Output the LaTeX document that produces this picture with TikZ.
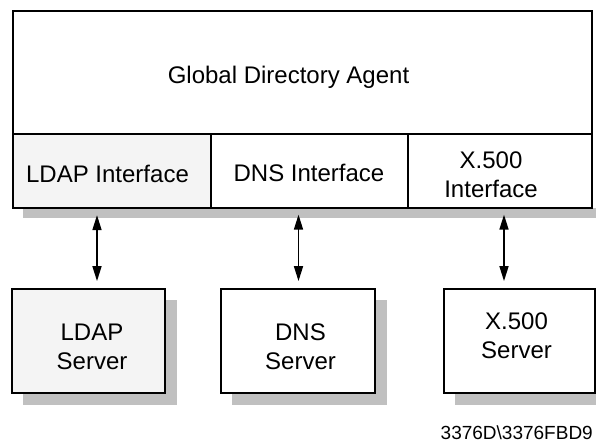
\documentclass[tikz,border=0pt]{standalone}
\usepackage{fontspec}
\setmainfont{Liberation Sans}
\usetikzlibrary{arrows.meta}
\definecolor{shadowgray}{RGB}{192,192,192}
\definecolor{lightfill}{RGB}{244,244,244}
\begin{document}
\begin{tikzpicture}[x=1pt,y=-1pt,
  box/.style={draw=black, line width=1.3pt, fill=white, inner sep=0pt},
  srvbox/.style={box, line width=1.8pt, minimum height=104pt},
  txt/.style={anchor=base, inner sep=0pt, font=\fontsize{24}{29}\selectfont},
  shade/.style={fill=shadowgray, draw=none},
  dblarrow/.style={{Triangle[length=15pt,width=9pt]}-{Triangle[length=15pt,width=9pt]},
                   line width=1.6pt, shorten <=6pt, shorten >=7pt}]
\useasboundingbox (0,0) rectangle (596,442);
\clip (0,0) rectangle (596,442);
% shadows
\fill[shade] (23,208) rectangle (596,218);
\fill[shade] (23,300) rectangle (177,405);
\fill[shade] (232,300) rectangle (387,405);
\fill[shade] (455,300) rectangle (607,405);
% agent
\node[box, minimum width=579pt, minimum height=123pt] (agent) at (302.5,72.5) {};
\node[txt] (agentlbl) at (288.5,83) {Global Directory Agent};
\node[box, minimum width=197pt, minimum height=74pt] (dnsif) at (309.5,171) {};
\node[txt] (dnsiflbl) at (309,181) {DNS Interface};
\node[box, minimum width=184pt, minimum height=74pt] (xif) at (500,171) {};
\node[txt] (xiflbla) at (491,168) {X.500};
\node[txt] (xiflblb) at (491,197) {Interface};
\node[box, fill=lightfill, line width=2.2pt, minimum width=198pt, minimum height=74pt] (ldapif) at (112,171) {};
\node[txt] (ldapiflbl) at (107.5,182) {LDAP Interface};
% servers
\node[srvbox, fill=lightfill, minimum width=153pt] (ldapsrv) at (88.5,341) {};
\node[txt] (ldapsrva) at (92,340) {LDAP};
\node[txt] (ldapsrvb) at (92,369) {Server};
\node[srvbox, minimum width=154pt] (dnssrv) at (298,341) {};
\node[txt] (dnssrva) at (300.5,340) {DNS};
\node[txt] (dnssrvb) at (300.5,369) {Server};
\node[srvbox, minimum width=151pt] (xsrv) at (519.5,341) {};
\node[txt] (xsrva) at (516.5,329) {X.500};
\node[txt] (xsrvb) at (516.5,358) {Server};
% arrow columns
\coordinate (c1) at (97,0);
\coordinate (c2) at (298.5,0);
\coordinate (c3) at (504,0);
\draw[dblarrow] (c1 |- ldapif.south) -- (c1 |- ldapsrv.north);
\draw[dblarrow] (c2 |- dnsif.south) -- (c2 |- dnssrv.north);
\draw[dblarrow] (c3 |- xif.south) -- (c3 |- xsrv.north);
% footer
\node[anchor=base east, inner sep=0pt, font=\fontsize{19}{22}\selectfont] (code) at (593,439) {3376D\textbackslash 3376FBD9};
\end{tikzpicture}
\end{document}
